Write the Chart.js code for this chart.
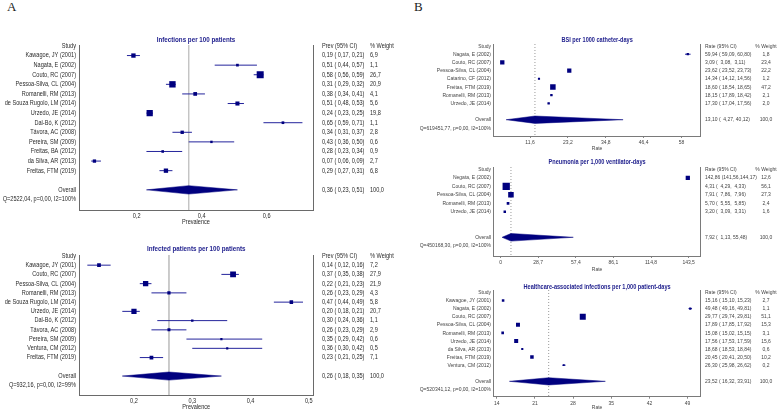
<!DOCTYPE html>
<html>
<head>
<meta charset="utf-8">
<script src="https://cdn.jsdelivr.net/npm/chart.js@4.4.1/dist/chart.umd.min.js"></script>
<style>
  html, body { margin: 0; padding: 0; background: #fff; }
  #wrap { position: relative; width: 778px; height: 411px; overflow: hidden; background: #fff; }
  canvas { position: absolute; }
  .tag { position: absolute; font: 13px "Liberation Serif", "Times New Roman", serif; color: #222; }
</style>
</head>
<body>
<div id="wrap">
  <div class="tag" style="left:7px;top:-1px">A</div>
  <div class="tag" style="left:414px;top:-1px">B</div>
  <canvas id="infChart" width="410" height="228" style="left:0;top:0"></canvas>
  <canvas id="iptChart" width="410" height="183" style="left:0;top:228px"></canvas>
  <canvas id="bsiChart" width="388" height="152" style="left:390px;top:0"></canvas>
  <canvas id="vapChart" width="388" height="121" style="left:390px;top:152px"></canvas>
  <canvas id="haiChart" width="388" height="138" style="left:390px;top:273px"></canvas>
</div>
<script>
// A (top): infections per 100 patients
const infStudies = ["Kawagoe, JY (2001)", "Nagata, E (2002)", "Couto, RC (2007)", "Pessoa-Silva, CL (2004)",
  "Romanelli, RM (2013)", "de Souza Rugolo, LM (2014)", "Urzedo, JE (2014)", "Dal-Bó, K (2012)",
  "Távora, AC (2008)", "Pereira, SM (2009)", "Freitas, BA (2012)", "da Silva, AR (2013)", "Freitas, FTM (2019)"];
const infPrev = [0.19, 0.51, 0.58, 0.31, 0.38, 0.51, 0.24, 0.65, 0.34, 0.43, 0.28, 0.07, 0.29];
const infLow = [0.17, 0.44, 0.56, 0.29, 0.34, 0.48, 0.23, 0.59, 0.31, 0.36, 0.23, 0.06, 0.27];
const infHigh = [0.21, 0.57, 0.59, 0.32, 0.41, 0.53, 0.25, 0.71, 0.37, 0.50, 0.34, 0.09, 0.31];
const infWeight = [6.9, 1.1, 26.7, 20.9, 4.1, 5.6, 19.8, 1.1, 2.8, 0.6, 0.9, 2.7, 6.8];
const infOverall = [0.36, 0.23, 0.51];
const infHet = "Q=2522,04, p=0,00, I2=100%";
const infTicks = [0.2, 0.4, 0.6];

// A (bottom): infected patients per 100 patients
const iptStudies = ["Kawagoe, JY (2001)", "Couto, RC (2007)", "Pessoa-Silva, CL (2004)", "Romanelli, RM (2013)",
  "de Souza Rugolo, LM (2014)", "Urzedo, JE (2014)", "Dal-Bó, K (2012)", "Távora, AC (2008)",
  "Pereira, SM (2009)", "Ventura, CM (2012)", "Freitas, FTM (2019)"];
const iptPrev = [0.14, 0.37, 0.22, 0.26, 0.47, 0.20, 0.30, 0.26, 0.35, 0.36, 0.23];
const iptLow = [0.12, 0.35, 0.21, 0.23, 0.44, 0.18, 0.24, 0.23, 0.29, 0.30, 0.21];
const iptHigh = [0.16, 0.38, 0.23, 0.29, 0.49, 0.21, 0.36, 0.29, 0.42, 0.42, 0.25];
const iptWeight = [7.2, 27.9, 21.9, 4.3, 5.8, 20.7, 1.1, 2.9, 0.6, 0.5, 7.1];
const iptOverall = [0.26, 0.18, 0.35];
const iptHet = "Q=932,16, p=0,00, I2=99%";
const iptTicks = [0.2, 0.3, 0.4, 0.5];

// B (top): BSI per 1000 catheter-days
const bsiStudies = ["Nagata, E (2002)", "Couto, RC (2007)", "Pessoa-Silva, CL (2004)", "Catarino, CF (2012)",
  "Freitas, FTM (2019)", "Romanelli, RM (2013)", "Urzedo, JE (2014)"];
const bsiRate = [59.94, 3.09, 23.62, 14.34, 18.60, 18.15, 17.30];
const bsiLow = [59.09, 3.08, 23.52, 14.12, 18.54, 17.89, 17.04];
const bsiHigh = [60.80, 3.11, 23.73, 14.56, 18.65, 18.42, 17.56];
const bsiWeight = [1.8, 23.4, 22.2, 1.2, 47.2, 2.1, 2.0];
const bsiOverall = [13.10, 4.27, 40.12];
const bsiHet = "Q=619451,77, p=0,00, I2=100%";
const bsiTicks = [11.6, 23.2, 34.8, 46.4, 58];

// B (middle): pneumonia per 1,000 ventilator-days
const vapStudies = ["Negata, E (2002)", "Couto, RC (2007)", "Pessoa-Silva, CL (2004)", "Romanelli, RM (2013)",
  "Urzedo, JE (2014)"];
const vapRate = [142.86, 4.31, 7.91, 5.70, 3.20];
const vapLow = [141.56, 4.29, 7.86, 5.55, 3.09];
const vapHigh = [144.17, 4.33, 7.96, 5.85, 3.31];
const vapWeight = [12.6, 56.1, 27.3, 2.4, 1.6];
const vapOverall = [7.92, 1.13, 55.48];
const vapHet = "Q=450168,30, p=0,00, I2=100%";
const vapTicks = [0, 28.7, 57.4, 86.1, 114.8, 143.5];

// B (bottom): healthcare-associated infections per 1,000 patient-days
const haiStudies = ["Kawagoe, JY (2001)", "Nagata, E (2002)", "Couto, RC (2007)", "Pessoa-Silva, CL (2004)",
  "Romanelli, RM (2013)", "Urzedo, JE (2014)", "da Silva, AR (2013)", "Freitas, FTM (2019)", "Ventura, CM (2012)"];
const haiRate = [15.16, 49.48, 29.77, 17.89, 15.08, 17.56, 18.68, 20.45, 26.30];
const haiLow = [15.10, 49.16, 29.74, 17.85, 15.02, 17.53, 18.53, 20.41, 25.98];
const haiHigh = [15.23, 49.81, 29.81, 17.92, 15.15, 17.59, 18.84, 20.50, 26.62];
const haiWeight = [2.7, 1.1, 51.1, 15.3, 3.1, 15.6, 0.6, 10.2, 0.2];
const haiOverall = [23.52, 16.32, 33.91];
const haiHet = "Q=520341,12, p=0,00, I2=100%";
const haiTicks = [14, 21, 28, 35, 42, 49];


const FONT = '"Liberation Sans", Arial, sans-serif';
// no narrow font is installed, so every text is squeezed sideways to look like Arial Narrow
const SQUEEZE = 0.82;
const NAVY = "#00007f";
const comma = (v, d) => (d === undefined ? String(v) : v.toFixed(d)).replace(".", ",");


// Builds one forest plot; p holds the data arrays plus where things sit on the canvas
function forestPlot(id, p) {
  const canvas = document.getElementById(id);
  const W = canvas.width, H = canvas.height;
  const n = p.studies.length;
  const overallRow = n + 1 + p.gap;
  const labels = ["Study", ...p.studies, ...Array(p.gap).fill(""), "Overall", p.het];
  const maxW = Math.max(...p.weight);
  const pad = (s) => " ".repeat(Math.max(0, p.ciWidth - s.length)) + s;
  const ciText = (e, l, h) => comma(e, 2) + " (" + pad(comma(l, 2)) + "," + pad(comma(h, 2)) + ")";

  const ctx2d = canvas.getContext("2d");
  const plainFill = ctx2d.fillText.bind(ctx2d);
  ctx2d.fillText = function (text, x, y) {
    this.save();
    this.translate(x, y);
    this.scale(SQUEEZE, 1);
    plainFill(text, 0, 0);
    this.restore();
  };

  const datasets = [];
  // reference line at the pooled estimate
  datasets.push({
    data: [{ x: p.overall[0], y: p.yMin }, { x: p.overall[0], y: p.yMax }],
    borderColor: p.refColor, borderWidth: 1, borderDash: p.refDash,
    pointRadius: 0, order: 5
  });
  p.est.forEach((e, i) => {
    datasets.push({
      data: [{ x: p.low[i], y: i + 1 }, { x: p.high[i], y: i + 1 }],
      borderColor: "#24249c", borderWidth: 1, pointRadius: 0, order: 3
    });
  });
  const [oe, ol, oh] = p.overall;
  datasets.push({
    data: [{ x: ol, y: overallRow }, { x: oe, y: overallRow - p.dh }, { x: oh, y: overallRow },
      { x: oe, y: overallRow + p.dh }, { x: ol, y: overallRow }],
    borderColor: NAVY, backgroundColor: NAVY, borderWidth: 0.5, fill: "shape",
    pointRadius: 0, order: 2
  });
  datasets.push({
    data: p.est.map((e, i) => ({ x: e, y: i + 1 })),
    showLine: false, pointStyle: "rect",
    pointRadius: p.weight.map((w) => (p.boxMin + p.boxK * Math.sqrt(w / maxW)) / Math.SQRT2),
    pointBackgroundColor: NAVY, pointBorderWidth: 0, order: 1
  });

  const columns = {
    id: "columns",
    afterDraw(chart) {
      const { ctx, chartArea, scales: { y } } = chart;
      ctx.save();
      ctx.textBaseline = "middle";
      ctx.fillStyle = p.textColor;
      ctx.font = p.fontSize + "px " + FONT;
      const row = (r) => y.getPixelForValue(r);
      ctx.textAlign = "left";
      ctx.fillText(p.colHead, p.ciX, row(0));
      p.est.forEach((e, i) => ctx.fillText(ciText(e, p.low[i], p.high[i]), p.ciX, row(i + 1)));
      ctx.fillText(ciText(oe, ol, oh), p.ciX, row(overallRow));
      ctx.textAlign = p.wAlign;
      ctx.fillText("% Weight", p.wX, row(0));
      p.weight.forEach((w, i) => ctx.fillText(comma(w, 1), p.wX, row(i + 1)));
      ctx.fillText("100,0", p.wX, row(overallRow));
      ctx.textAlign = "center";
      ctx.fillStyle = "#23238f";
      ctx.font = "bold " + p.titleSize + "px " + FONT;
      ctx.fillText(p.title, (chartArea.left + chartArea.right) / 2, p.titleY);
      ctx.restore();
    }
  };

  const axisFont = { size: p.fontSize, family: FONT };
  return new Chart(canvas, {
    type: "line",
    data: { datasets: datasets },
    plugins: [columns],
    options: {
      responsive: false,
      animation: false,
      events: [],
      layout: { padding: { left: 0, top: p.area.top, right: W - p.area.right, bottom: 0 } },
      plugins: { legend: { display: false }, tooltip: { enabled: false } },
      scales: {
        x: {
          type: "linear", min: p.xMin, max: p.xMax,
          afterBuildTicks: (ax) => { ax.ticks = p.ticks.map((v) => ({ value: v })); },
          afterFit: (ax) => { ax.height = H - p.area.bottom; },
          ticks: { callback: (v) => comma(v), font: axisFont, color: p.textColor, padding: p.tickPad, maxRotation: 0, autoSkip: false },
          grid: { display: p.tickMarks, drawOnChartArea: false, drawTicks: p.tickMarks, tickLength: 2, color: "#888" },
          border: { display: true, color: p.boxColor, width: 1 },
          title: { display: true, text: p.xTitle, font: axisFont, color: p.textColor, padding: { top: 0, bottom: p.xTitlePad } }
        },
        y: {
          type: "linear", reverse: true, min: p.yMin, max: p.yMax,
          afterBuildTicks: (ax) => { ax.ticks = labels.map((l, i) => ({ value: i })); },
          afterFit: (ax) => { ax.width = p.area.left; },
          ticks: { autoSkip: false, callback: (v, i) => labels[i], font: axisFont, color: p.textColor, padding: p.labelPad },
          grid: { display: false, drawTicks: false },
          border: { display: true, color: p.boxColor, width: 1 }
        },
        y2: {
          type: "linear", position: "right",
          afterFit: (ax) => { ax.width = 0; },
          ticks: { display: false },
          grid: { display: false, drawTicks: false },
          border: { display: true, color: p.boxColor, width: 1 }
        }
      }
    }
  });
}


const panelA = {
  fontSize: 6.8, titleSize: 7.6, textColor: "#2a2a2a", boxColor: "#6a6a6a",
  refColor: "#c4c4c4", refDash: [], tickMarks: false, tickPad: 2, labelPad: 3,
  colHead: "Prev (95% CI)", ciX: 322, wX: 370, wAlign: "left", ciWidth: 5,
  xTitle: "Prevalence", gap: 1, dh: 0.44, boxMin: 1.6
};
const panelB = {
  fontSize: 6.1, titleSize: 6.8, textColor: "#444", boxColor: "#7a7a7a",
  refColor: "#9a9a9a", refDash: [1, 2], tickMarks: true, tickPad: 1, labelPad: 2.5,
  colHead: "Rate (95% CI)", ciX: 315, wX: 376, wAlign: "center", ciWidth: 6,
  xTitle: "Rate", gap: 1, dh: 0.45, boxMin: 1.5, xTitlePad: 0
};

forestPlot("infChart", Object.assign({}, panelA, {
  title: "Infections per 100 patients", titleY: 39.5,
  studies: infStudies, est: infPrev, low: infLow, high: infHigh, weight: infWeight,
  overall: infOverall, het: infHet, ticks: infTicks,
  xMin: 0.0225, xMax: 0.7425, yMin: -0.1, yMax: 17.1,
  area: { left: 79, right: 313, top: 45, bottom: 210 }, xTitlePad: 2, boxK: 5.4
}));

forestPlot("iptChart", Object.assign({}, panelA, {
  title: "Infected patients per 100 patients", titleY: 20.5,
  studies: iptStudies, est: iptPrev, low: iptLow, high: iptHigh, weight: iptWeight,
  overall: iptOverall, het: iptHet, ticks: iptTicks,
  xMin: 0.1057, xMax: 0.508, yMin: -0.1, yMax: 15.05,
  area: { left: 79, right: 313.5, top: 27, bottom: 167 }, xTitlePad: 0, boxK: 4.2
}));

forestPlot("bsiChart", Object.assign({}, panelB, {
  title: "BSI per 1000 catheter-days", titleY: 40,
  studies: bsiStudies, est: bsiRate, low: bsiLow, high: bsiHigh, weight: bsiWeight,
  overall: bsiOverall, het: bsiHet, ticks: bsiTicks,
  xMin: 0.4, xMax: 63.9, yMin: -0.25, yMax: 10.99,
  area: { left: 103.5, right: 310.7, top: 44, bottom: 136 }, boxK: 4
}));

forestPlot("vapChart", Object.assign({}, panelB, {
  title: "Pneumonia per 1,000 ventilator-days", titleY: 10.3, gap: 2,
  studies: vapStudies, est: vapRate, low: vapLow, high: vapHigh, weight: vapWeight,
  overall: vapOverall, het: vapHet, ticks: vapTicks,
  xMin: -5.4, xMax: 152.7, yMin: -0.27, yMax: 10.2,
  area: { left: 103.5, right: 310.7, top: 15, bottom: 104 }, boxK: 5.8
}));

forestPlot("haiChart", Object.assign({}, panelB, {
  title: "Healthcare-associated infections per 1,000 patient-days", titleY: 14.3,
  studies: haiStudies, est: haiRate, low: haiLow, high: haiHigh, weight: haiWeight,
  overall: haiOverall, het: haiHet, ticks: haiTicks,
  xMin: 13.4, xMax: 51.4, yMin: -0.3, yMax: 12.9,
  area: { left: 103.5, right: 310.7, top: 17, bottom: 123.7 }, boxK: 4.5
}));
</script>
</body>
</html>
